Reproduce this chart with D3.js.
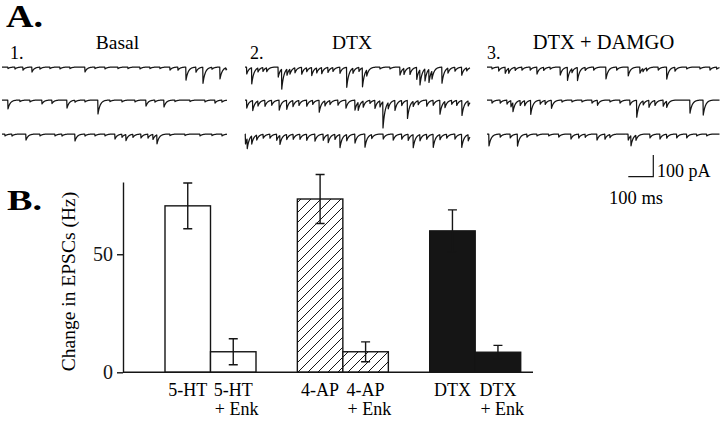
<!DOCTYPE html>
<html>
<head>
<meta charset="utf-8">
<script src="https://cdn.jsdelivr.net/npm/d3@7"></script>
<style>
  html, body { margin: 0; padding: 0; background: #fff; }
  svg { display: block; font-family: "Liberation Serif", "Times New Roman", serif; }
</style>
</head>
<body>
<svg id="fig" width="720" height="424"></svg>
<script>
const conditions = ["Basal", "DTX", "DTX + DAMGO"];
const conditionNums = ["1.", "2.", "3."];
const sweepDurations = [900, 900, 930];

const basalSweeps = [
  [[24,7],[52,9],[84,14],[120,23],[152,9],[192,7],[232,9],[272,7],[332,23],[372,7],[412,9],[464,7],
   [504,7],[552,9],[592,7],[632,7],[672,14],[704,14],[736,60],[776,23],[804,74],[840,9],[872,55],[896,9]],
  [[24,41],[72,7],[112,9],[160,18],[200,16],[260,37],[292,9],[332,9],[384,64],[432,7],[480,9],[532,9],
   [576,28],[612,9],[648,32],[692,7],[752,7],[812,9],[852,14],[880,9]],
  [[12,9],[40,9],[96,28],[152,9],[212,9],[240,9],[292,32],[332,9],[372,9],[412,9],[452,23],[480,14],
   [496,28],[524,14],[556,18],[584,18],[604,23],[620,41],[672,7],[732,7],[792,9],[840,7],[880,9]]
];

const dtxSweeps = [
  [[7,32],[27,74],[52,18],[72,18],[87,18],[133,46],[147,92],[168,28],[180,23],[200,23],[227,32],[247,18],
   [267,37],[287,23],[307,28],[332,23],[352,18],[380,28],[407,92],[432,23],[456,18],[470,87],[487,28],
   [540,9],[580,9],[620,37],[636,28],[660,32],[687,55],[700,69],[720,55],[736,60],[748,37],[788,74],
   [812,23],[840,18],[867,37],[887,14]],
  [[7,37],[31,46],[52,23],[80,28],[107,23],[137,46],[167,41],[192,28],[216,23],[247,28],[271,18],[297,55],
   [320,23],[340,18],[372,23],[404,37],[440,46],[453,37],[473,28],[500,14],[520,37],[540,28],[552,120],
   [573,28],[600,46],[627,23],[650,83],[673,23],[693,18],[727,28],[753,23],[780,64],[800,28],[827,18],
   [847,23],[868,69],[893,23]],
  [[2,46],[9,46],[27,37],[47,23],[73,18],[100,18],[127,28],[140,41],[167,23],[193,23],[220,23],[247,28],
   [280,32],[313,28],[333,37],[360,23],[380,60],[407,28],[440,41],[480,60],[507,18],[553,23],[593,28],
   [627,23],[653,28],[673,60],[700,28],[727,23],[753,60],[780,23],[807,18],[840,23],[867,60],[893,28]]
];

const damgoSweeps = [
  [[20,9],[47,18],[73,28],[87,23],[113,14],[140,14],[173,14],[200,32],[227,14],[253,9],[293,37],[322,60],
   [340,18],[362,60],[393,14],[427,14],[476,55],[519,14],[565,41],[612,28],[624,14],[639,14],[685,14],
   [719,55],[752,18],[799,9],[852,9],[892,14],[919,9]],
  [[20,14],[53,14],[80,18],[96,28],[104,41],[133,23],[151,23],[175,64],[213,18],[233,18],[258,37],[300,9],
   [340,9],[380,9],[420,14],[442,23],[492,9],[532,14],[572,23],[599,78],[625,18],[648,32],[672,23],
   [705,28],[719,28],[812,60],[865,69]],
  [[8,55],[53,14],[93,18],[122,55],[160,14],[200,9],[247,9],[287,14],[336,23],[367,18],[393,14],[440,28],
   [472,23],[492,14],[565,28],[576,46],[596,23],[652,18],[692,23],[719,18],[759,18],[799,18],[839,9],[879,9]]
];

// ---- panel B: change in EPSC frequency (Hz), mean and s.e.m.
const drugs = ["5-HT", "4-AP", "DTX"];
const treatments = ["alone", "enk"];
const aloneMeans = [70.5, 73.4, 59.9];
const aloneErrs = [9.7, 10.4, 8.9];
const enkMeans = [8.7, 8.7, 8.5];
const enkErrs = [5.5, 4.2, 2.9];
const yTicks = [0, 50];

const svg = d3.select("#fig");
const ink = "#151515";

// hatch for the 4-AP bars
svg.append("defs").append("pattern")
  .attr("id", "hatch").attr("patternUnits", "userSpaceOnUse")
  .attr("width", 10).attr("height", 10)
  .call(p => p.append("rect").attr("width", 10).attr("height", 10).attr("fill", "#fff"))
  .append("path")
  .attr("d", "M-1,1 l2,-2 M0,10 l10,-10 M9,11 l2,-2")
  .attr("stroke", ink).attr("stroke-width", 1);

// ---------------- panel A ----------------
const colX = [2, 245, 487];
const rowY = [67, 100, 134];
const tx = d3.scaleLinear().domain([0, 900]).range([0, 225]);   // ms -> px
const ty = d3.scaleLinear().domain([0, 100]).range([0, 21.7]);  // pA (inward, drawn down) -> px
const tau = 9;

function sweepPoints(events, duration) {
  const pts = [];
  for (let t = 0; t <= duration; t += 1) {
    let v = 0;
    for (const [t0, a] of events) {
      const dt = t - t0;
      if (dt < -1 || dt > 60) continue;
      v += dt < 0 ? a * (dt + 1) : a * Math.exp(-dt / tau);
    }
    pts.push([t, v]);
  }
  return pts;
}

svg.append("text").attr("x", 6).attr("y", 27)
  .attr("font-size", 31).attr("font-weight", "bold")
  .attr("textLength", 37).attr("lengthAdjust", "spacingAndGlyphs")
  .text("A.");

const allSweeps = [basalSweeps, dtxSweeps, damgoSweeps];
const titleX = [117.5, 352, 603.5];
const numX = [10, 250, 487];

allSweeps.forEach((sweeps, c) => {
  const g = svg.append("g").attr("transform", `translate(${colX[c]},0)`);
  const line = d3.line().x(d => tx(d[0]));
  sweeps.forEach((ev, r) => {
    g.append("path")
      .attr("d", line.y(d => rowY[r] + ty(d[1]))(sweepPoints(ev, sweepDurations[c])))
      .attr("fill", "none").attr("stroke", ink).attr("stroke-width", 1.25)
      .attr("stroke-linejoin", "round");
  });
  svg.append("text").attr("x", titleX[c]).attr("y", 49)
    .attr("text-anchor", "middle").attr("font-size", c === 2 ? 20.5 : 19.5)
    .text(conditions[c]);
  svg.append("text").attr("x", numX[c]).attr("y", 59)
    .attr("font-size", 18).text(conditionNums[c]);
});

// scale bar
const sbX = 653.3, sbY = 176.7;
svg.append("path")
  .attr("d", `M${sbX - tx(100)},${sbY}H${sbX}V${sbY - ty(100)}`)
  .attr("fill", "none").attr("stroke", ink).attr("stroke-width", 1.2);
svg.append("text").attr("x", 657).attr("y", 177).attr("font-size", 18).text("100 pA");
svg.append("text").attr("x", 609).attr("y", 204).attr("font-size", 18.5).text("100 ms");

// ---------------- panel B ----------------
svg.append("text").attr("x", 7).attr("y", 210)
  .attr("font-size", 30).attr("font-weight", "bold")
  .attr("textLength", 35).attr("lengthAdjust", "spacingAndGlyphs")
  .text("B.");

const x0 = d3.scaleBand().domain(drugs).range([165, 520.7]).paddingInner(0.3124);
const x1 = d3.scaleBand().domain(treatments).range([0, x0.bandwidth()]);
const y = d3.scaleLinear().domain([0, 80.6]).range([372.3, 182]);

const bars = drugs.flatMap((d, i) => [
  { drug: d, tr: "alone", mean: aloneMeans[i], err: aloneErrs[i], i },
  { drug: d, tr: "enk", mean: enkMeans[i], err: enkErrs[i], i }
]);
const fills = ["#fff", "url(#hatch)", ink];

svg.append("g").selectAll("rect").data(bars).join("rect")
  .attr("x", d => x0(d.drug) + x1(d.tr))
  .attr("y", d => y(d.mean))
  .attr("width", x1.bandwidth())
  .attr("height", d => y(0) - y(d.mean))
  .attr("fill", d => fills[d.i])
  .attr("stroke", ink).attr("stroke-width", 1.4);

const eb = svg.append("g").attr("stroke", ink).attr("stroke-width", 1.4).attr("fill", "none");
bars.forEach(d => {
  const cx = x0(d.drug) + x1(d.tr) + x1.bandwidth() / 2;
  const y1 = y(d.mean + d.err), y2 = y(d.mean - d.err);
  eb.append("path").attr("d", `M${cx},${y1}V${y2}M${cx - 4.5},${y1}h9M${cx - 4.5},${y2}h9`);
});

// axes
const yAxis = svg.append("g").attr("transform", "translate(123,0)")
  .call(d3.axisLeft(y).tickValues(yTicks).tickSize(6).tickSizeOuter(0).tickPadding(4));
yAxis.select(".domain").attr("stroke", ink).attr("stroke-width", 1.4);
yAxis.selectAll(".tick line").attr("stroke", ink).attr("stroke-width", 1.4);
yAxis.selectAll(".tick text").attr("font-size", 20).attr("fill", ink)
  .attr("font-family", "Liberation Serif, serif");
svg.append("line").attr("x1", 123).attr("x2", 533).attr("y1", y(0)).attr("y2", y(0))
  .attr("stroke", ink).attr("stroke-width", 1.6);

svg.append("text")
  .attr("transform", "translate(75,281.5) rotate(-90)")
  .attr("text-anchor", "middle").attr("font-size", 19.5)
  .text("Change in EPSCs (Hz)");

// category labels, two lines left-aligned
bars.forEach(d => {
  const cx = x0(d.drug) + x1(d.tr) + x1.bandwidth() / 2;
  const t = svg.append("text").attr("font-size", 18).attr("y", 396).text(d.drug);
  const w = t.node().getComputedTextLength();
  t.attr("x", cx - w / 2);
  if (d.tr === "enk") {
    svg.append("text").attr("font-size", 18).attr("x", cx - w / 2 + 1).attr("y", 415).text("+ Enk");
  }
});
</script>
</body>
</html>
